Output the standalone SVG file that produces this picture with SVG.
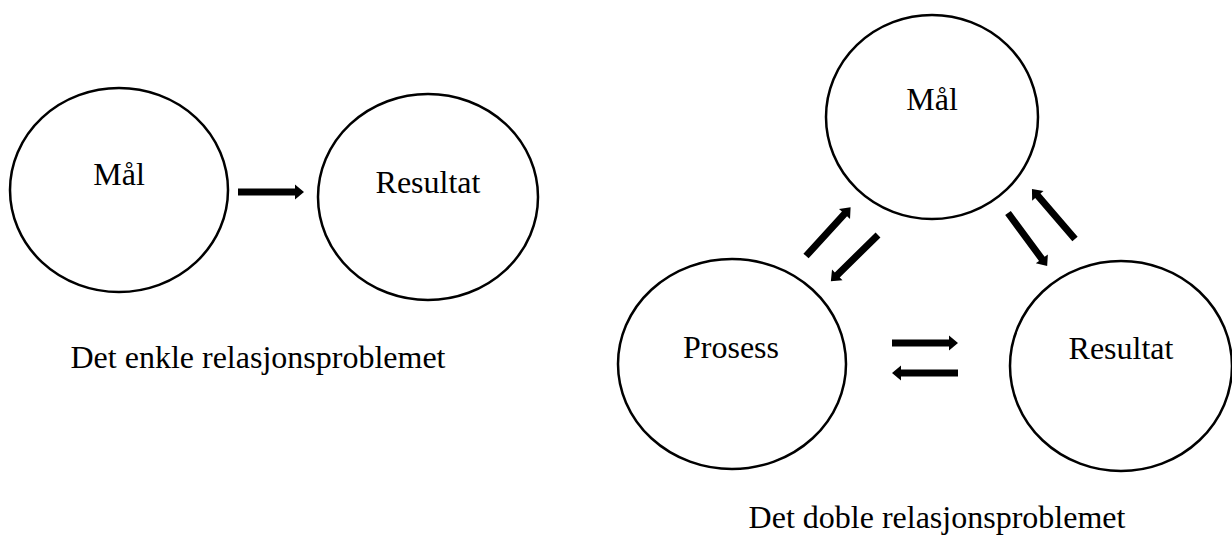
<svg xmlns="http://www.w3.org/2000/svg" xmlns:xlink="http://www.w3.org/1999/xlink" width="1232" height="537" viewBox="0 0 1232 537">
<style>
.node ellipse{fill:#fff;stroke:#000;stroke-width:2.5}
text{font-family:"Liberation Serif","Times New Roman",serif;font-size:32px;fill:#000}
.lbl{text-anchor:middle}
.arr{fill:#000}
</style>
<defs>
<path id="arrow" d="M0,-3.5 H57 V-7.5 L66,0 L57,7.5 V3.5 H0 Z"/>
</defs>
<rect width="1232" height="537" fill="#fff"/>
<g id="left-maal" class="node">
<ellipse cx="119" cy="190" rx="109" ry="102"/>
<text class="lbl" x="119" y="185">Mål</text>
</g>
<g id="left-resultat" class="node">
<ellipse cx="428" cy="197" rx="110" ry="103"/>
<text class="lbl" x="428" y="193">Resultat</text>
</g>
<text id="caption-left" class="lbl" x="258" y="368">Det enkle relasjonsproblemet</text>
<g id="right-maal" class="node">
<ellipse cx="932" cy="117" rx="106" ry="102"/>
<text class="lbl" x="932" y="110">Mål</text>
</g>
<g id="right-prosess" class="node">
<ellipse cx="732" cy="364" rx="114" ry="105"/>
<text class="lbl" x="731" y="358">Prosess</text>
</g>
<g id="right-resultat" class="node">
<ellipse cx="1121" cy="366" rx="111" ry="105"/>
<text class="lbl" x="1121" y="359">Resultat</text>
</g>
<text id="caption-right" class="lbl" x="937" y="528">Det doble relasjonsproblemet</text>
<g id="connectors" class="arr">
<use xlink:href="#arrow" transform="translate(238,192)"/>
<use xlink:href="#arrow" transform="translate(892,343)"/>
<use xlink:href="#arrow" transform="translate(958,373) rotate(180)"/>
<use xlink:href="#arrow" transform="translate(806,256) rotate(-47.5)"/>
<use xlink:href="#arrow" transform="translate(878,235) rotate(135.6)"/>
<use xlink:href="#arrow" transform="translate(1008,213) rotate(53.6)"/>
<use xlink:href="#arrow" transform="translate(1075,239) rotate(-130.7)"/>
</g>
</svg>
